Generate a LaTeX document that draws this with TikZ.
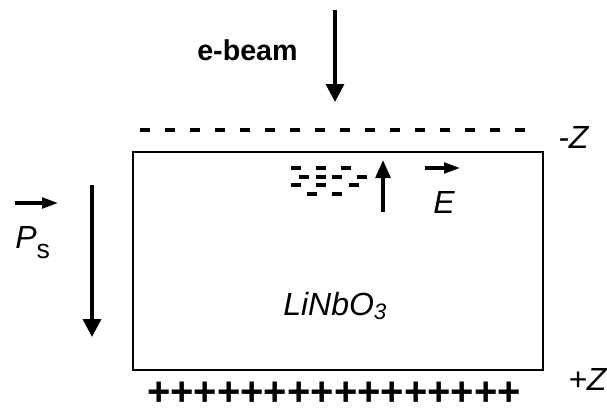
\documentclass[tikz,border=0pt]{standalone}
\usepackage{fontspec}
\setmainfont{Liberation Sans}
\usetikzlibrary{arrows.meta}

\begin{document}
\begin{tikzpicture}[x=0.75pt,y=-0.75pt,
        fleche/.style={line width=2.6pt,-{Triangle[length=13.5pt,width=13.5pt]}},
        vecteur/.style={line width=2.4pt,-{Triangle[length=12pt,width=8pt]}},
        texte/.style={inner sep=0pt,anchor=base west,font=\fontsize{24}{24}\selectfont\itshape},
        charge/.style={fill=black,minimum width=6.8pt,minimum height=2.6pt,inner sep=0pt}]
        % Cadre de l'image (607 x 414)
        \useasboundingbox (0,0) rectangle (607,414);

        % Le cristal
        \node (cristal) [draw,line width=2pt,minimum width=307.5pt,minimum height=163.5pt,inner sep=0pt] at (338,261) {};
        \node (nom) [texte] at (283,315) {LiNbO\textsubscript{3}};

        % Faisceau d'electrons
        \node (ebeam) [inner sep=0pt,anchor=base west,font=\fontsize{21.5}{21.5}\selectfont\bfseries] at (197,60) {e-beam};
        \coordinate (ebeam-haut) at (335,10);
        \coordinate (ebeam-bas) at (335,102);
        \draw[fleche] (ebeam-haut) -- (ebeam-bas);

        % Charges negatives sur la face -Z
        \coordinate (moins-g) at (140,130);
        \coordinate (moins-d) at (530,130);
        \draw[line width=2.3pt,dash pattern=on 7.5pt off 11.25pt] (moins-g) -- (moins-d);
        \node (moinsZ) [texte] at (558,148) {-Z};

        % Charges positives sur la face +Z
        \node (plus) [inner sep=0pt,font=\fontsize{30}{30}\selectfont\bfseries] at (334,394) {++++++++++++++++};
        \node (plusZ) [texte] at (568,390) {+Z};

        % Polarisation spontanee
        \coordinate (ps-haut) at (92,185);
        \coordinate (ps-bas) at (92,337);
        \draw[fleche] (ps-haut) -- (ps-bas);
        \coordinate (ps-g) at (15,203);
        \coordinate (ps-d) at (58,203);
        \draw[vecteur] (ps-g) -- (ps-d);
        \node (ps) [texte] at (15,248) {P\raisebox{-7.5pt}{\fontsize{20}{20}\selectfont\upshape s}};

        % Electrons pieges et champ E
        \foreach \x/\y [count=\i] in {296/168,321/168,346/168,304/177,321/177,337/177,362/177,296/185,321/185,354/185,312/194,337/194}
            \node (e\i) [charge] at (\x,\y) {};
        \coordinate (champ-bas) at (383,212);
        \coordinate (champ-haut) at (383,160);
        \draw[line width=2.6pt,-{Triangle[length=13.5pt,width=11pt]}] (champ-bas) -- (champ-haut);
        \coordinate (e-g) at (425,168);
        \coordinate (e-d) at (460,168);
        \draw[vecteur] (e-g) -- (e-d);
        \node (champ) [texte] at (433,213) {E};
\end{tikzpicture}
\end{document}
